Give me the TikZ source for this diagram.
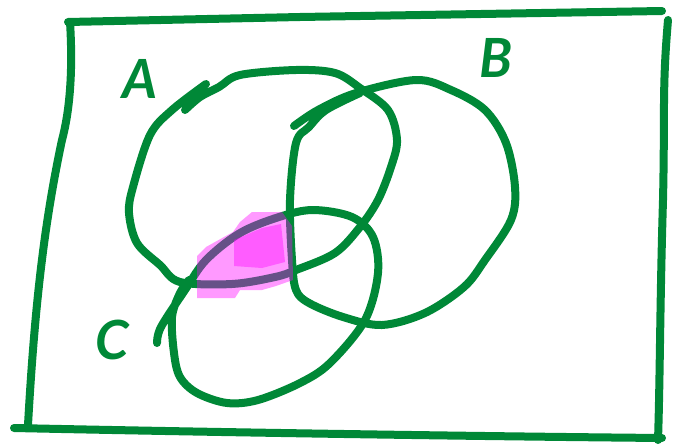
\documentclass[tikz,border=0pt]{standalone}
\usepackage{fontspec}
\setsansfont{Lato}
\definecolor{pen}{RGB}{0,136,55}
\definecolor{hl}{RGB}{255,0,255}
\tikzset{
  ink/.style={draw=pen, line width=8pt, line cap=round, line join=round},
  hilite/.style={fill=hl, fill opacity=0.4, draw=none},
  lbl/.style={text=pen, font=\sffamily\bfseries\itshape\fontsize{54}{54}\selectfont, inner sep=0pt}
}
\begin{document}
\begin{tikzpicture}[x=1pt,y=-1pt]
\useasboundingbox (0,0) rectangle (674,447);
% frame
\draw[ink] (68,22) -- (300,17) -- (662,11);
\draw[ink] (70,22) .. controls (73,70) and (70,110) .. (62,140) .. controls (45,220) and (35,300) .. (28,425);
\draw[ink] (14,428) .. controls (200,432) and (450,436) .. (662,438);
\draw[ink] (668,20) .. controls (662,90) and (665,110) .. (663,200) .. controls (660,300) and (660,380) .. (658,440);
% circle A
\draw[ink] plot[smooth, tension=0.55] coordinates {(206,84) (172,110) (150,135) (133,187) (129,213) (137,243) (160,265) (180,282) (232,284) (275,277) (296,270) (335,253) (360,227) (378,200) (391,167) (397,140) (388,110) (360,88) (335,73) (296,70) (240,75) (219,87) (200,97) (185,110)};
% circle B
\draw[ink] plot[smooth, tension=0.55] coordinates {(294,126) (318,110) (356,93) (416,80) (451,90) (485,110) (506,143) (515,187) (511,220) (485,260) (464,287) (425,313) (382,325) (343,317) (309,303) (296,290) (292,260) (290,200) (296,143) (309,127) (326,110) (360,93)};
% circle C
\draw[ink] plot[smooth, tension=0.55] coordinates {(157,343) (161,327) (185,290) (206,260) (240,233) (279,217) (313,210) (352,217) (373,237) (378,273) (365,320) (330,363) (300,383) (258,400) (227,403) (197,393) (180,377) (174,353) (172,317) (180,293) (189,280)};
% highlight
\fill[hilite] (197,256) -- (206,247) -- (233,232) -- (240,222) -- (252,212) -- (282,212) -- (292,226) -- (293,280) -- (276,286) -- (262,290) -- (240,290) -- (235,298) -- (197,298) -- cycle;
\fill[hilite] (234,240) -- (262,228) -- (281,224) -- (285,262) -- (262,268) -- (234,266) -- cycle;
% labels
\node[lbl] (la) at (140,79) {A};
\node[lbl] (lb) at (496,58) {B};
\node[lbl] (lc) at (112,340) {C};
\end{tikzpicture}
\end{document}
